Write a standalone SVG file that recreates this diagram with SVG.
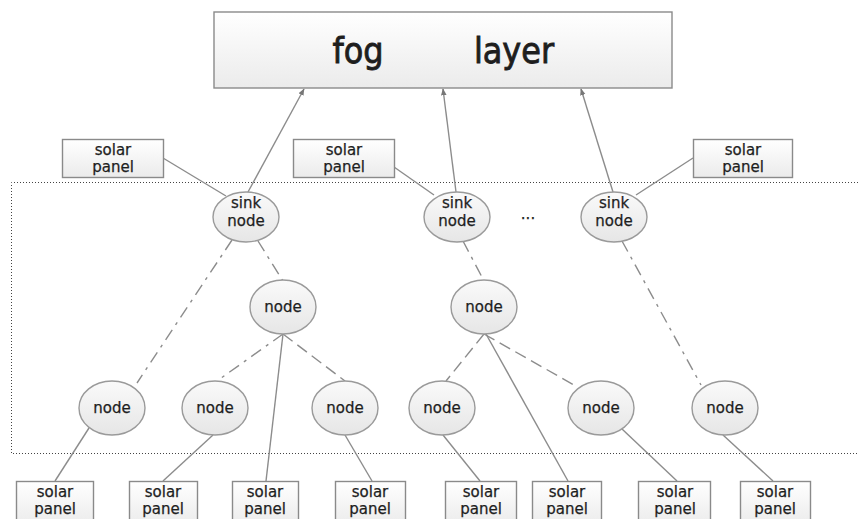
<svg xmlns="http://www.w3.org/2000/svg" width="858" height="519" viewBox="0 0 858 519">
  <style>
    .box { fill: url(#boxFill); stroke: #8a8a8a; stroke-width: 1.4; }
    .node { fill: url(#nodeFill); stroke: #9a9a9a; stroke-width: 1.4; }
    .lbl { font-family: "DejaVu Sans", "Noto Sans", sans-serif; font-size: 15px; fill: #1e1e1e; stroke: #1e1e1e; stroke-width: 0.25; text-anchor: middle; }
    .big { font-family: "DejaVu Sans", "Noto Sans", sans-serif; font-size: 32px; fill: #1e1e1e; stroke: #1e1e1e; stroke-width: 0.8; text-anchor: middle; }
    .wire { stroke: #8c8c8c; stroke-width: 1.4; fill: none; }
    .dashdot { stroke-dasharray: 12 6 3 6; }
    .dash { stroke-dasharray: 12 6; }
    .zone { fill: none; stroke: #444; stroke-width: 1; stroke-dasharray: 1 2; }
  </style>
  <defs>
    <linearGradient id="boxFill" x1="0" y1="0" x2="0" y2="1">
      <stop offset="0" stop-color="#ffffff"/>
      <stop offset="1" stop-color="#ebebeb"/>
    </linearGradient>
    <linearGradient id="nodeFill" x1="0" y1="0" x2="0" y2="1">
      <stop offset="0" stop-color="#fafafa"/>
      <stop offset="1" stop-color="#e6e6e6"/>
    </linearGradient>
    <marker id="arrow" viewBox="0 0 10 10" refX="9" refY="5" markerWidth="7" markerHeight="7" orient="auto" markerUnits="userSpaceOnUse">
      <path d="M0,1 L10,5 L0,9 z" fill="#777"/>
    </marker>
  </defs>

  <rect width="858" height="519" fill="#ffffff"/>

  <!-- sensor field boundary (open on the right) -->
  <path class="zone" d="M858,182.5 H11.5 V453.5 H858"/>

  <g id="connectors">
    <!-- uplinks to fog layer -->
    <line class="wire" x1="248" y1="192" x2="304" y2="89" marker-end="url(#arrow)"/>
    <line class="wire" x1="456" y1="192" x2="443" y2="89" marker-end="url(#arrow)"/>
    <line class="wire" x1="613" y1="192" x2="581" y2="89" marker-end="url(#arrow)"/>
    <!-- top solar panels -->
    <line class="wire" x1="163" y1="158" x2="226" y2="196"/>
    <line class="wire" x1="394" y1="167" x2="434" y2="195"/>
    <line class="wire" x1="693" y1="158" x2="636" y2="195"/>
    <!-- wireless links -->
    <line class="wire dashdot" x1="232" y1="240" x2="137" y2="383"/>
    <line class="wire dashdot" x1="258" y1="241" x2="283" y2="281"/>
    <line class="wire dashdot" x1="283" y1="334" x2="217" y2="381"/>
    <line class="wire dash" x1="283" y1="334" x2="345" y2="381"/>
    <line class="wire dashdot" x1="463" y1="241" x2="484" y2="281"/>
    <line class="wire dash" x1="484" y1="334" x2="446" y2="381"/>
    <line class="wire dash" x1="484" y1="334" x2="574" y2="385"/>
    <line class="wire dashdot" x1="622" y1="241" x2="701" y2="385"/>
    <!-- bottom solar panels -->
    <line class="wire" x1="283" y1="334" x2="266" y2="481"/>
    <line class="wire" x1="486" y1="334" x2="568" y2="481"/>
    <line class="wire" x1="89" y1="428" x2="55" y2="481"/>
    <line class="wire" x1="213" y1="435" x2="163" y2="481"/>
    <line class="wire" x1="345" y1="435" x2="372" y2="481"/>
    <line class="wire" x1="443" y1="435" x2="480" y2="481"/>
    <line class="wire" x1="622" y1="429" x2="677" y2="481"/>
    <line class="wire" x1="723" y1="435" x2="773" y2="481"/>
  </g>

  <g id="fog-layer">
    <rect class="box" x="214" y="12" width="458" height="76"/>
    <text class="big" transform="translate(358,63) scale(1,1.1)">fog</text>
    <text class="big" transform="translate(514,63) scale(1,1.1)">layer</text>
  </g>

  <g id="panel-top-1">
    <rect class="box" x="62.5" y="139.5" width="101" height="38"/>
    <text class="lbl" x="113" y="155">solar</text>
    <text class="lbl" x="113" y="172">panel</text>
  </g>
  <g id="panel-top-2">
    <rect class="box" x="293.5" y="139.5" width="101" height="38"/>
    <text class="lbl" x="344" y="155">solar</text>
    <text class="lbl" x="344" y="172">panel</text>
  </g>
  <g id="panel-top-3">
    <rect class="box" x="693.5" y="139.5" width="99" height="38"/>
    <text class="lbl" x="743" y="155">solar</text>
    <text class="lbl" x="743" y="172">panel</text>
  </g>

  <g id="sink-1">
    <ellipse class="node" cx="246" cy="217" rx="33" ry="25"/>
    <text class="lbl" x="246" y="208">sink</text>
    <text class="lbl" x="246" y="226">node</text>
  </g>
  <g id="sink-2">
    <ellipse class="node" cx="457" cy="217" rx="33" ry="25"/>
    <text class="lbl" x="457" y="208">sink</text>
    <text class="lbl" x="457" y="226">node</text>
  </g>
  <text class="lbl" x="528" y="219">...</text>
  <g id="sink-3">
    <ellipse class="node" cx="614" cy="217" rx="33" ry="25"/>
    <text class="lbl" x="614" y="208">sink</text>
    <text class="lbl" x="614" y="226">node</text>
  </g>

  <g id="node-m1">
    <ellipse class="node" cx="283" cy="307" rx="33" ry="27"/>
    <text class="lbl" x="283" y="312">node</text>
  </g>
  <g id="node-m2">
    <ellipse class="node" cx="484" cy="307" rx="33" ry="27"/>
    <text class="lbl" x="484" y="312">node</text>
  </g>

  <g id="node-b1">
    <ellipse class="node" cx="112" cy="408" rx="33" ry="27"/>
    <text class="lbl" x="112" y="413">node</text>
  </g>
  <g id="node-b2">
    <ellipse class="node" cx="215" cy="408" rx="33" ry="27"/>
    <text class="lbl" x="215" y="413">node</text>
  </g>
  <g id="node-b3">
    <ellipse class="node" cx="345" cy="408" rx="33" ry="27"/>
    <text class="lbl" x="345" y="413">node</text>
  </g>
  <g id="node-b4">
    <ellipse class="node" cx="442" cy="408" rx="33" ry="27"/>
    <text class="lbl" x="442" y="413">node</text>
  </g>
  <g id="node-b5">
    <ellipse class="node" cx="601" cy="408" rx="33" ry="27"/>
    <text class="lbl" x="601" y="413">node</text>
  </g>
  <g id="node-b6">
    <ellipse class="node" cx="725" cy="408" rx="33" ry="27"/>
    <text class="lbl" x="725" y="413">node</text>
  </g>

  <g id="panel-b1">
    <rect class="box" x="16.5" y="481.5" width="77" height="44"/>
    <text class="lbl" x="55" y="497">solar</text>
    <text class="lbl" x="55" y="514">panel</text>
  </g>
  <g id="panel-b2">
    <rect class="box" x="129.5" y="481.5" width="68" height="44"/>
    <text class="lbl" x="163" y="497">solar</text>
    <text class="lbl" x="163" y="514">panel</text>
  </g>
  <g id="panel-b3">
    <rect class="box" x="232.5" y="481.5" width="66" height="44"/>
    <text class="lbl" x="265" y="497">solar</text>
    <text class="lbl" x="265" y="514">panel</text>
  </g>
  <g id="panel-b4">
    <rect class="box" x="335.5" y="481.5" width="70" height="44"/>
    <text class="lbl" x="370" y="497">solar</text>
    <text class="lbl" x="370" y="514">panel</text>
  </g>
  <g id="panel-b5">
    <rect class="box" x="445.5" y="481.5" width="71" height="44"/>
    <text class="lbl" x="481" y="497">solar</text>
    <text class="lbl" x="481" y="514">panel</text>
  </g>
  <g id="panel-b6">
    <rect class="box" x="532.5" y="481.5" width="69" height="44"/>
    <text class="lbl" x="567" y="497">solar</text>
    <text class="lbl" x="567" y="514">panel</text>
  </g>
  <g id="panel-b7">
    <rect class="box" x="638.5" y="481.5" width="72" height="44"/>
    <text class="lbl" x="675" y="497">solar</text>
    <text class="lbl" x="675" y="514">panel</text>
  </g>
  <g id="panel-b8">
    <rect class="box" x="740.5" y="481.5" width="70" height="44"/>
    <text class="lbl" x="775" y="497">solar</text>
    <text class="lbl" x="775" y="514">panel</text>
  </g>
</svg>
